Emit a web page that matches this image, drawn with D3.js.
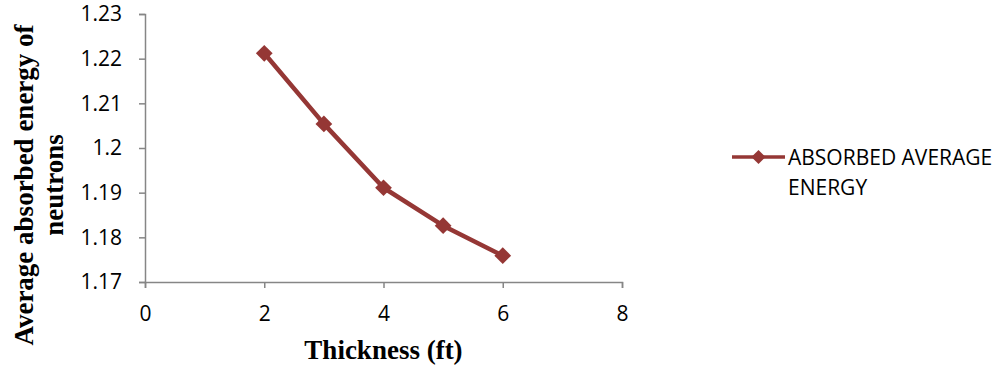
<!DOCTYPE html>
<html>
<head>
<meta charset="utf-8">
<script src="https://cdn.jsdelivr.net/npm/d3@7"></script>
<style>
  body { margin: 0; background: #fff; }
  .axis path, .axis line { stroke: #868686; stroke-width: 1.5; }
  .axis text { font-family: 'Open Sans', sans-serif; font-size: 21px; fill: #000; }
</style>
</head>
<body>
<div id="chart"></div>
<script>
// data
let thickness = [2, 3, 4, 5, 6];
let energy = [1.2212, 1.2054, 1.1911, 1.1826, 1.1759];
let xTicks = [0, 2, 4, 6, 8];
let yTicks = [1.17, 1.18, 1.19, 1.2, 1.21, 1.22, 1.23];
let seriesName = ['ABSORBED AVERAGE', 'ENERGY'];

let width = 1007;
let height = 370;
let lineColor = '#953735';

let svg = d3.select('#chart')
	.append('svg')
	.attr('width', width)
	.attr('height', height);

let x = d3.scaleLinear().domain([0, 8]).range([145, 622]);
let y = d3.scaleLinear().domain([1.17, 1.23]).range([282, 14]);

// axes
svg.append('g')
	.attr('class', 'axis')
	.attr('transform', 'translate(0,' + y(1.17) + ')')
	.call(d3.axisBottom(x).tickValues(xTicks).tickSizeOuter(0).tickSize(6).tickPadding(18).tickFormat(d3.format('d')));

svg.append('g')
	.attr('class', 'axis')
	.attr('transform', 'translate(' + x(0) + ',0)')
	.call(d3.axisLeft(y).tickValues(yTicks).tickSizeOuter(0).tickSize(6).tickPadding(17).tickFormat(function(d){ return String(+d.toFixed(2)); }));

// series line
let points = thickness.map(function(d, i){ return {x: d, y: energy[i]}; });
let lineBuild = d3.line().x(function(d){ return x(d.x); }).y(function(d){ return y(d.y); });

svg.append('path')
	.attr('d', lineBuild(points))
	.attr('fill', 'none')
	.attr('stroke', lineColor)
	.attr('stroke-width', 4.5)
	.attr('stroke-linejoin', 'round');

let diamond = d3.symbol().type(d3.symbolSquare).size(140);
svg.append('g')
	.selectAll('path')
	.data(points)
	.enter()
	.append('path')
	.attr('d', diamond)
	.attr('transform', function(d){ return 'translate(' + x(d.x) + ',' + y(d.y) + ') rotate(45)'; })
	.attr('fill', lineColor);

// axis titles
svg.append('text')
	.text('Thickness (ft)')
	.attr('x', (x(0) + x(8)) / 2)
	.attr('y', 359)
	.attr('text-anchor', 'middle')
	.attr('font-family', "'Liberation Serif', 'Times New Roman', serif")
	.attr('font-weight', 'bold')
	.attr('font-size', 27);

let yTitle = svg.append('text')
	.attr('transform', 'translate(33,185) rotate(-90)')
	.attr('text-anchor', 'middle')
	.attr('font-family', "'Liberation Serif', 'Times New Roman', serif")
	.attr('font-weight', 'bold')
	.attr('font-size', 27);
yTitle.append('tspan').attr('x', 0).attr('y', 0).text('Average absorbed energy of');
yTitle.append('tspan').attr('x', 0).attr('y', 30).text('neutrons');

// legend
let legend = svg.append('g');
legend.append('line')
	.attr('x1', 732).attr('x2', 785)
	.attr('y1', 157).attr('y2', 157)
	.attr('stroke', lineColor)
	.attr('stroke-width', 3.5);
legend.append('path')
	.attr('d', d3.symbol().type(d3.symbolSquare).size(100))
	.attr('transform', 'translate(758.5,157) rotate(45)')
	.attr('fill', lineColor);
legend.selectAll('text')
	.data(seriesName)
	.enter()
	.append('text')
	.text(function(d){ return d; })
	.attr('x', 788)
	.attr('y', function(d, i){ return 165 + i * 30; })
	.attr('font-family', "'Open Sans', sans-serif")
	.attr('font-size', 21)
	.attr('fill', '#000');
</script>
</body>
</html>
